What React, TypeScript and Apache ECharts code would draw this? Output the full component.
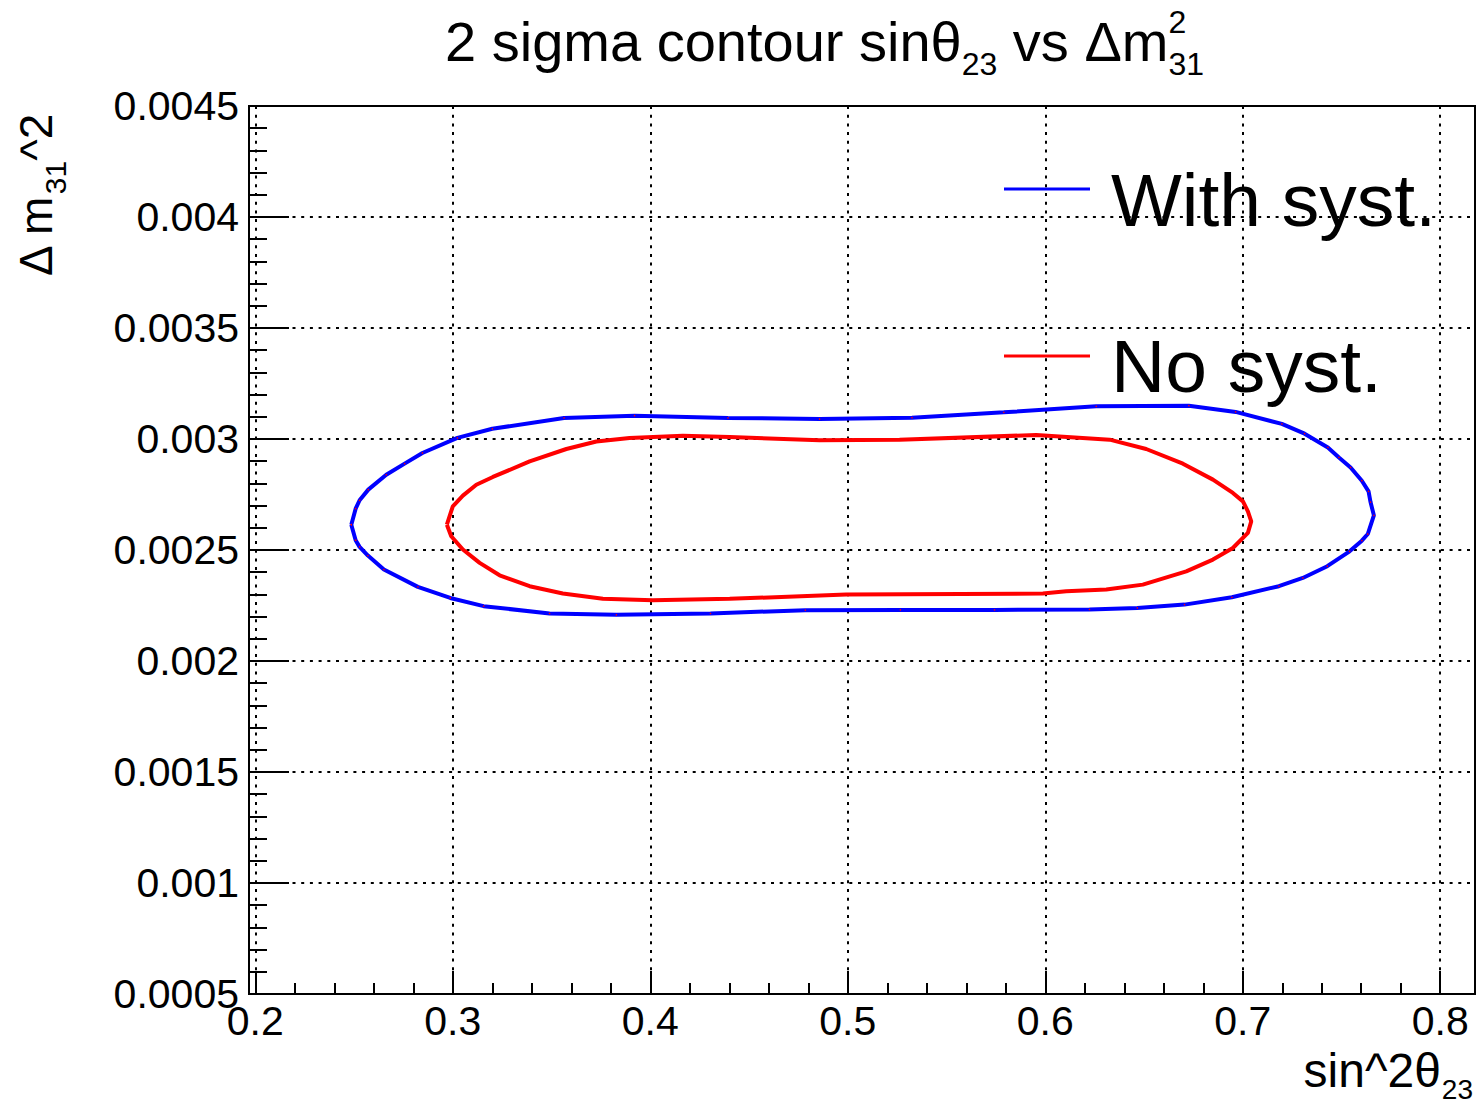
import React, { useEffect, useRef } from "react";
import * as echarts from "echarts";

// ---- data ----
const withSystX = [0.2486, 0.2508, 0.2528, 0.2572, 0.2663, 0.2756, 0.2846, 0.3023, 0.32, 0.3563, 0.392, 0.4393, 0.4857, 0.5325, 0.579, 0.6258, 0.6727, 0.6964, 0.7198, 0.7313, 0.7431, 0.7487, 0.7546, 0.7603, 0.7637, 0.7647, 0.7664, 0.7633, 0.7603, 0.7541, 0.7428, 0.7304, 0.7183, 0.6945, 0.6705, 0.6466, 0.6224, 0.5743, 0.5266, 0.4785, 0.4305, 0.3828, 0.349, 0.3156, 0.2987, 0.2823, 0.2651, 0.257, 0.2528, 0.2508, 0.2486];
const withSystY = [0.002614, 0.002686, 0.002724, 0.002772, 0.002839, 0.002889, 0.002937, 0.003005, 0.003046, 0.003095, 0.003105, 0.003095, 0.00309, 0.003096, 0.00312, 0.003147, 0.00315, 0.003122, 0.003068, 0.003024, 0.002962, 0.002917, 0.002872, 0.002812, 0.002764, 0.002716, 0.002656, 0.002572, 0.002542, 0.002494, 0.002427, 0.002374, 0.002337, 0.002287, 0.002254, 0.002239, 0.002232, 0.00223, 0.00223, 0.002229, 0.002214, 0.002208, 0.002214, 0.002247, 0.002284, 0.002334, 0.002412, 0.002475, 0.002514, 0.002544, 0.002614];

const noSystX = [0.297, 0.3, 0.3051, 0.3119, 0.3203, 0.3389, 0.3575, 0.3727, 0.3895, 0.4165, 0.4402, 0.4857, 0.5262, 0.5954, 0.6326, 0.6511, 0.6697, 0.6849, 0.695, 0.7001, 0.7026, 0.7043, 0.7026, 0.695, 0.6849, 0.6714, 0.6494, 0.6309, 0.6106, 0.5988, 0.4992, 0.4402, 0.4013, 0.376, 0.3557, 0.3389, 0.3237, 0.3136, 0.3051, 0.2992, 0.297];
const noSystY = [0.002614, 0.002697, 0.002745, 0.002794, 0.002829, 0.002899, 0.002955, 0.002989, 0.003005, 0.003015, 0.003009, 0.002994, 0.002997, 0.003018, 0.002997, 0.002955, 0.002889, 0.002817, 0.002757, 0.002719, 0.002674, 0.002629, 0.002577, 0.002509, 0.002457, 0.002404, 0.002344, 0.002322, 0.002314, 0.002304, 0.002299, 0.00228, 0.002274, 0.00228, 0.002304, 0.002337, 0.002386, 0.002442, 0.002502, 0.002562, 0.002614];

const xMajorTicks = [0.2, 0.3, 0.4, 0.5, 0.6, 0.7, 0.8];
const xMinorTicks = Array.from({ length: 31 }, (_, i) => +(0.2 + i * 0.02).toFixed(2));
const xRange = [0.1968, 0.8176];
const yRange = [0.0005, 0.0045];
const yStep = 0.0005;

const legendNames = ["With syst.", "No syst."];
const seriesColors = ["#0000ff", "#ff0000"];

const FONT = "Liberation Sans";

function measure(text: string, size: number): number {
  const c = document.createElement("canvas").getContext("2d");
  if (!c) return text.length * size * 0.55;
  c.font = `${size}px "${FONT}"`;
  return c.measureText(text).width;
}

function txt(text: string, x: number, baseline: number, size: number, align = "left", extra: any = {}) {
  const y = baseline - 0.3465 * size;
  return {
    type: "text",
    x: 0,
    y: 0,
    silent: true,
    style: {
      text,
      x,
      y,
      font: `${size}px "${FONT}"`,
      fontSize: size,
      fontFamily: FONT,
      fill: "#000",
      align,
      verticalAlign: "middle",
      textAlign: align,
      textVerticalAlign: "middle",
    },
    ...extra,
  };
}

export default function App() {
  const ref = useRef<HTMLDivElement>(null);

  useEffect(() => {
    if (!ref.current) return;
    const chart = echarts.init(ref.current, undefined, { renderer: "svg" });

    const zip = (xs: number[], ys: number[]) => xs.map((x, i) => [x, ys[i]]);

    // title pieces
    const T0 = 445;
    const tMain = "2 sigma contour sin\u03b8";
    const x1 = T0 + measure(tMain, 56);
    const x2 = x1 + measure("23", 32);
    const tMid = " vs \u0394m";
    const x3 = x2 + measure(tMid, 56);

    // y title pieces (rotated)
    const yt1 = "\u0394 m";
    const ya = measure(yt1, 46);
    const yb = ya + measure("31", 30);

    // x title
    const xRight = 1473;
    const xSubW = measure("23", 28);

    const graphic: any[] = [
      txt(tMain, T0, 61, 56),
      txt("23", x1, 75, 32),
      txt(tMid, x2, 61, 56),
      txt("2", x3, 33, 32),
      txt("31", x3, 75, 32),
      {
        type: "group",
        x: 52,
        y: 276,
        rotation: Math.PI / 2,
        children: [
          txt(yt1, 0, 0, 46),
          txt("31", ya, 14, 30),
          txt("^2", yb, 0, 46),
        ],
      },
      txt("sin^2\u03b8", xRight - xSubW - 1, 1087, 48, "right"),
      txt("23", xRight, 1099, 28, "right"),
      // legend
      {
        type: "line",
        silent: true,
        shape: { x1: 1004, y1: 189, x2: 1090, y2: 189 },
        style: { stroke: seriesColors[0], lineWidth: 3 },
      },
      txt(legendNames[0], 1111, 226, 75),
      {
        type: "line",
        silent: true,
        shape: { x1: 1004, y1: 356, x2: 1090, y2: 356 },
        style: { stroke: seriesColors[1], lineWidth: 3 },
      },
      txt(legendNames[1], 1111, 392, 75),
    ];

    const dotted = { color: "#000", width: 2, type: [3, 5.7] as any };

    chart.setOption({
      animation: false,
      backgroundColor: "#fff",
      textStyle: { fontFamily: FONT },
      grid: {
        left: 249,
        top: 106,
        width: 1226,
        height: 888,
        show: true,
        borderColor: "#000",
        borderWidth: 2,
        backgroundColor: "transparent",
        z: 10,
      },
      xAxis: [
        {
          type: "value",
          min: xRange[0],
          max: xRange[1],
          position: "bottom",
          axisLine: { show: true, lineStyle: { color: "#000", width: 2 } },
          axisTick: {
            show: true,
            inside: true,
            length: 23,
            customValues: xMajorTicks,
            lineStyle: { color: "#000", width: 2 },
          },
          axisLabel: {
            show: true,
            customValues: xMajorTicks,
            margin: 6,
            color: "#000",
            fontSize: 41,
            fontFamily: FONT,
            formatter: (v: number) => v.toFixed(1),
          },
          splitLine: { show: true, lineStyle: dotted },
        },
        {
          type: "value",
          min: xRange[0],
          max: xRange[1],
          position: "bottom",
          axisLine: { show: false },
          axisLabel: { show: false },
          splitLine: { show: false },
          axisTick: {
            show: true,
            inside: true,
            length: 11,
            customValues: xMinorTicks,
            lineStyle: { color: "#000", width: 2 },
          },
        },
      ],
      yAxis: {
        type: "value",
        min: yRange[0],
        max: yRange[1],
        interval: yStep,
        axisLine: { show: true, lineStyle: { color: "#000", width: 2 } },
        axisTick: { show: true, inside: true, length: 40, lineStyle: { color: "#000", width: 2 } },
        minorTick: { show: true, splitNumber: 5, length: 18, lineStyle: { color: "#000", width: 2 } },
        axisLabel: {
          show: true,
          margin: 10,
          color: "#000",
          fontSize: 41,
          fontFamily: FONT,
          formatter: (v: number) => String(+v.toFixed(4)),
        },
        splitLine: { show: true, lineStyle: dotted },
      },
      graphic,
      series: [
        {
          name: legendNames[0],
          type: "line",
          data: zip(withSystX, withSystY),
          showSymbol: true,
          symbol: "circle",
          symbolSize: 1.5,
          itemStyle: { color: "#ff0000" },
          lineStyle: { color: seriesColors[0], width: 4 },
          z: 5,
        },
        {
          name: legendNames[1],
          type: "line",
          data: zip(noSystX, noSystY),
          showSymbol: false,
          lineStyle: { color: seriesColors[1], width: 4 },
          itemStyle: { color: seriesColors[1] },
          z: 5,
        },
      ],
    });

    return () => chart.dispose();
  }, []);

  return (
    <div
      ref={ref}
      style={{ position: "fixed", left: 0, top: 0, width: 1479, height: 1107, background: "#fff" }}
    />
  );
}
